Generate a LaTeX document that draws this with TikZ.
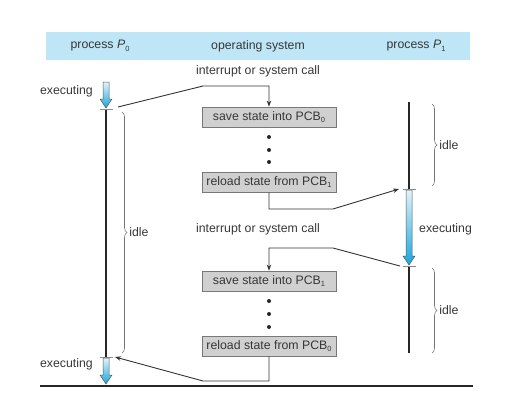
\documentclass[tikz,border=0pt]{standalone}
\usepackage{fontspec}
\setmainfont{Liberation Sans}
\usetikzlibrary{arrows.meta,decorations.pathreplacing}
\definecolor{hdr}{RGB}{190,230,246}
\definecolor{txt}{RGB}{55,55,55}
\definecolor{boxfill}{RGB}{208,208,208}
\definecolor{boxline}{RGB}{120,120,120}
\definecolor{cyanc}{RGB}{25,165,220}
\definecolor{cyantop}{RGB}{225,243,250}
\newcommand\mysub[1]{\raisebox{-0.35ex}{\fontsize{7.5}{8}\selectfont #1}}
\newcommand\bluearrow[3]{%
  \shade[top color=cyantop, bottom color=cyanc, draw=black!65, line width=0.5pt]
  (#1-3,#2) -- (#1+3,#2) -- (#1+3,#3-9) -- (#1+6,#3-9) -- (#1,#3) --
  (#1-6,#3-9) -- (#1-3,#3-9) -- cycle;}
\begin{document}
\begin{tikzpicture}[x=1pt,y=-1pt,
  every node/.style={font=\fontsize{12.3}{14}\selectfont, text=txt, inner sep=0pt},
  osbox/.style={draw=boxline, fill=boxfill, line width=0.8pt, minimum width=134pt, minimum height=20pt},
  conn/.style={draw=black!80, line width=0.9pt},
  arr/.style={conn, -{Stealth[length=6pt,width=4.5pt]}},
  proc/.style={draw=black!85, line width=2.6pt},
  tick/.style={draw=black!45, line width=0.6pt},
  brc/.style={draw=black!55, line width=0.6pt, decorate, decoration={brace, amplitude=5pt}},
  dot/.style={fill=black!85, circle, minimum size=4pt}]
\useasboundingbox (0,0) rectangle (505,412);
% header
\fill[hdr] (46,32) rectangle (470,60);
\node (h0) at (100,46) {process \textit{P}\mysub{0}};
\node (hos) at (258,46) {operating system};
\node (h1) at (416,46) {process \textit{P}\mysub{1}};
% labels
\node (int1) at (258,71) {interrupt or system call};
\node (int2) at (258,229) {interrupt or system call};
\node[anchor=east] (ex0a) at (93,91) {executing};
\node[anchor=east] (ex0b) at (93,364) {executing};
\node[anchor=west] (ex1) at (419,229) {executing};
% boxes
\node[osbox] (b1) at (269,117) {save state into PCB\mysub{0}};
\node[osbox] (b2) at (269,182) {reload state from PCB\mysub{1}};
\node[osbox] (b3) at (269,281) {save state into PCB\mysub{1}};
\node[osbox] (b4) at (269,346) {reload state from PCB\mysub{0}};
\foreach \y/\n in {137/d1,150/d2,162/d3,301/d4,314/d5,327/d6}
  \node[dot] (\n) at (269,\y) {};
% process P0
\coordinate (p0t) at (106,109);
\coordinate (p0b) at (106,357);
\bluearrow{106}{82}{108}
\draw[proc] (p0t) -- (p0b);
\draw[tick] (99.5,109) -- (112.5,109);
\draw[tick] (99.5,357) -- (112.5,357);
\bluearrow{106}{358}{384}
% process P1
\coordinate (p1t) at (409,102);
\coordinate (p1a) at (409,189);
\coordinate (p1b) at (409,266);
\coordinate (p1e) at (409,353);
\draw[proc] (p1t) -- (p1a);
\bluearrow{409}{190}{265}
\draw[proc] (p1b) -- (p1e);
\draw[tick] (402.5,189) -- (415.5,189);
\draw[tick] (402.5,266) -- (415.5,266);
% braces
\draw[brc] (122,112) -- (122,353) node[midway, anchor=west, xshift=7pt] (i0) {idle};
\draw[brc] (432,104) -- (432,186) node[midway, anchor=west, xshift=7pt] (i1) {idle};
\draw[brc] (432,268) -- (432,353) node[midway, anchor=west, xshift=7pt] (i2) {idle};
% connectors
\coordinate (c1s) at (118,107);
\coordinate (c2e) at (399,189);
\coordinate (c3s) at (400,266);
\coordinate (c4e) at (115,357);
\draw[arr] (c1s) -- (203,86) -- (269,86) -- (b1.north);
\draw[arr] (b2.south) -- (269,209) -- (333,209) -- (c2e);
\draw[arr] (c3s) -- (333,248) -- (269,248) -- (b3.north);
\draw[arr] (b4.south) -- (269,381) -- (203,381) -- (c4e);
% baseline
\coordinate (bl0) at (40,386);
\coordinate (bl1) at (473,386);
\draw[draw=black!85, line width=1.1pt] (bl0) -- (bl1);
\end{tikzpicture}
\end{document}
